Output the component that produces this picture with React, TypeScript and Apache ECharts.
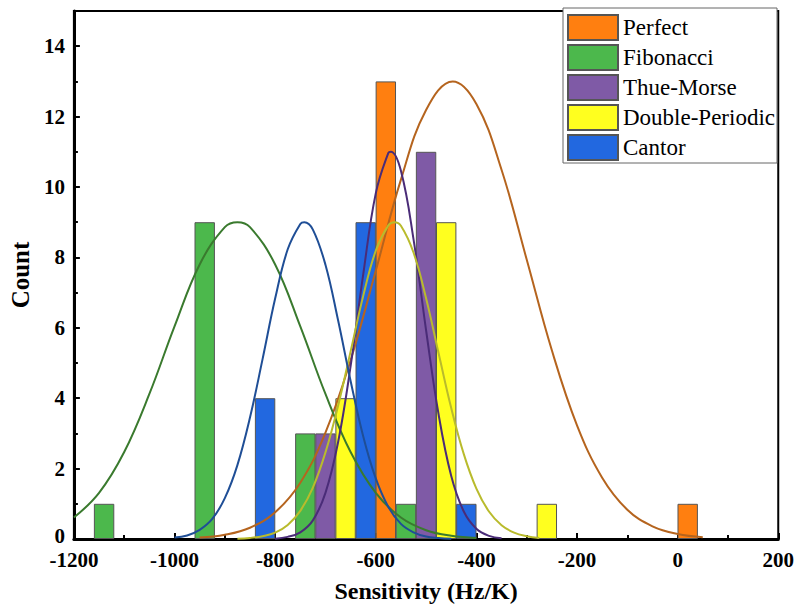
import React, { useEffect, useRef } from "react";
import * as echarts from "echarts";

// Histogram bins (bin centres, bin width 40 Hz/K) and counts
const perfectX = [-580, 20];
const perfectCount = [13, 1];
const fibX = [-1140, -940, -740, -540];
const fibCount = [1, 9, 3, 1];
const thueX = [-700, -500];
const thueCount = [3, 11];
const dpX = [-660, -460, -260];
const dpCount = [4, 9, 1];
const cantorX = [-820, -620, -420];
const cantorCount = [4, 9, 1];

// Fitted distribution curves
const perfectCurveX = [-950, -900, -850, -800, -750, -700, -650, -600, -550, -500, -447, -400, -350, -300, -250, -200, -150, -100, -50, 0, 50];
const perfectCurveY = [0.04, 0.12, 0.32, 0.76, 1.6, 3.02, 5.08, 7.62, 10.21, 12.19, 13.0, 12.36, 10.49, 7.94, 5.36, 3.23, 1.74, 0.83, 0.36, 0.14, 0.05];

const fibCurveX = [-1200, -1150, -1100, -1050, -1000, -950, -900, -875, -850, -800, -750, -700, -650, -600, -550, -500, -450, -400];
const fibCurveY = [0.61, 1.31, 2.47, 4.12, 6.04, 7.8, 8.86, 9.0, 8.86, 7.8, 6.04, 4.12, 2.47, 1.31, 0.61, 0.25, 0.09, 0.03];

const thueCurveX = [-800, -775, -750, -725, -700, -675, -650, -625, -600, -575, -570, -550, -525, -500, -475, -450, -425, -400, -375, -350];
const thueCurveY = [0.01, 0.06, 0.19, 0.53, 1.31, 2.74, 4.91, 7.51, 9.82, 10.97, 11.0, 10.46, 8.52, 5.93, 3.53, 1.79, 0.78, 0.29, 0.09, 0.02];

const dpCurveX = [-875, -850, -825, -800, -775, -750, -725, -700, -675, -650, -625, -600, -575, -563, -550, -525, -500, -475, -450, -425, -400, -375, -350, -325, -300, -275];
const dpCurveY = [0.01, 0.03, 0.08, 0.18, 0.4, 0.8, 1.46, 2.46, 3.78, 5.33, 6.9, 8.19, 8.91, 9.0, 8.9, 8.14, 6.84, 5.27, 3.72, 2.41, 1.43, 0.78, 0.39, 0.18, 0.08, 0.03];

const cantorCurveX = [-1000, -975, -950, -925, -900, -875, -850, -825, -800, -775, -750, -742, -725, -700, -675, -650, -625, -600, -575, -550, -525, -500, -475, -450];
const cantorCurveY = [0.04, 0.1, 0.26, 0.57, 1.16, 2.1, 3.45, 5.11, 6.83, 8.23, 8.95, 9.0, 8.79, 7.79, 6.22, 4.49, 2.92, 1.72, 0.91, 0.43, 0.19, 0.07, 0.03, 0.01];

const seriesNames = ["Perfect", "Fibonacci", "Thue-Morse", "Double-Periodic", "Cantor"];
const xTicks = { min: -1200, max: 200, interval: 200 };
const yTicks = { min: 0, max: 15, interval: 2 };
const binWidth = 40;

const FONT = "'Liberation Serif', 'Times New Roman', serif";

const pairs = (xs: number[], ys: number[]) => xs.map((x, i) => [x, ys[i]]);

export default function App() {
  const ref = useRef<HTMLDivElement>(null);
  useEffect(() => {
    if (!ref.current) return;
    const chart = echarts.init(ref.current, undefined, { renderer: "svg" });
    const W = 797;
    const gridLeft = 66.5;
    const gridRight = 16.4;
    const plotW = W - gridLeft - gridRight;
    const barPx = (plotW * binWidth) / (xTicks.max - xTicks.min);

    const barColors = ["#FF7F10", "#4CB84C", "#7F5AA6", "#FFFF1F", "#2268E0"];
    const curveColors = ["#B5641E", "#3A7A2E", "#4A2C78", "#B9BB2C", "#1F4E96"];
    const barData = [
      pairs(perfectX, perfectCount),
      pairs(fibX, fibCount),
      pairs(thueX, thueCount),
      pairs(dpX, dpCount),
      pairs(cantorX, cantorCount),
    ];
    const curveData = [
      pairs(perfectCurveX, perfectCurveY),
      pairs(fibCurveX, fibCurveY),
      pairs(thueCurveX, thueCurveY),
      pairs(dpCurveX, dpCurveY),
      pairs(cantorCurveX, cantorCurveY),
    ];

    const bars = seriesNames.map((name, i) => ({
      name,
      type: "bar",
      data: barData[i],
      barWidth: barPx,
      barGap: "-100%",
      itemStyle: { color: barColors[i], borderColor: "#555", borderWidth: 1 },
      z: 2,
    }));
    const curves = seriesNames.map((name, i) => ({
      name: name + " fit",
      type: "line",
      data: curveData[i],
      smooth: 0.4,
      showSymbol: false,
      symbol: "none",
      lineStyle: { color: curveColors[i], width: 2 },
      z: 3,
    }));

    const plain = (v: number) => String(v);
    const yLabel = (v: number) => (v === 0 ? "{z|0}" : String(v));
    const labelFont = { fontFamily: FONT, fontSize: 21, fontWeight: "bold", color: "#000" };

    chart.setOption({
      animation: false,
      grid: {
        left: gridLeft,
        right: gridRight,
        top: 11,
        bottom: 71,
        show: true,
        borderColor: "#000",
        borderWidth: 2,
        backgroundColor: "transparent",
      },
      legend: {
        data: seriesNames,
        orient: "vertical",
        left: 563,
        top: 8,
        icon: "rect",
        itemWidth: 50,
        itemHeight: 25,
        itemGap: 3,
        padding: [6, 2, 2, 4],
        backgroundColor: "#fff",
        borderColor: "#666",
        borderWidth: 1,
        borderRadius: 0,
        textStyle: { fontFamily: FONT, fontSize: 23, color: "#000" },
        z: 10,
      },
      xAxis: {
        type: "value",
        min: xTicks.min,
        max: xTicks.max,
        interval: xTicks.interval,
        name: "Sensitivity (Hz/K)",
        nameLocation: "middle",
        nameGap: 40,
        nameTextStyle: { fontFamily: FONT, fontSize: 24, fontWeight: "bold", color: "#000" },
        axisLine: { show: true, onZero: false, lineStyle: { color: "#000", width: 3 } },
        axisTick: { show: true, inside: true, length: 6, lineStyle: { color: "#000", width: 2 } },
        minorTick: { show: true, splitNumber: 2, length: 4, lineStyle: { color: "#000", width: 2 } },
        splitLine: { show: false },
        axisLabel: {
          ...labelFont,
          lineHeight: 17,
          margin: 12,
          formatter: plain,
        },
      },
      yAxis: {
        type: "value",
        min: yTicks.min,
        max: yTicks.max,
        interval: yTicks.interval,
        name: "Count",
        nameLocation: "middle",
        nameGap: 35,
        nameTextStyle: { fontFamily: FONT, fontSize: 25, fontWeight: "bold", color: "#000" },
        axisLine: { show: true, onZero: false, lineStyle: { color: "#000", width: 3 } },
        axisTick: { show: true, inside: true, length: 6, lineStyle: { color: "#000", width: 2 } },
        minorTick: { show: true, splitNumber: 2, length: 4, lineStyle: { color: "#000", width: 2 } },
        splitLine: { show: false },
        axisLabel: {
          ...labelFont,
          lineHeight: 17,
          margin: 9,
          showMaxLabel: false,
          formatter: yLabel,
          rich: {
            z: { ...labelFont, lineHeight: 17, padding: [0, 0, 7, 0] },
          },
        },
      },
      series: [...bars, ...curves],
    });
    return () => chart.dispose();
  }, []);

  return (
    <div
      ref={ref}
      style={{ position: "fixed", left: 0, top: 0, width: 797, height: 610, background: "#fff" }}
    />
  );
}
